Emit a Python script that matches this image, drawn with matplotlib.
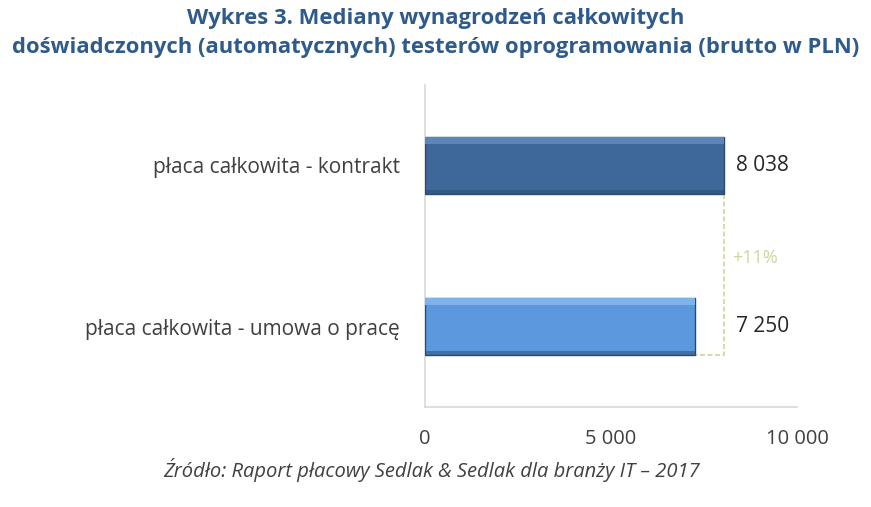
import matplotlib
matplotlib.use("Agg")
import matplotlib.pyplot as plt
import numpy as np

categories = ["płaca całkowita - umowa o pracę", "płaca całkowita - kontrakt"]
values = [7250, 8038]
value_labels = ["7 250", "8 038"]
xticks = [0, 5000, 10000]
xtick_labels = ["0", "5 000", "10 000"]
diff_label = "+11%"
title = "Wykres 3. Mediany wynagrodzeń całkowitych\ndoświadczonych (automatycznych) testerów oprogramowania (brutto w PLN)"
source = "Źródło: Raport płacowy Sedlak & Sedlak dla branży IT – 2017"

bar_colors = ["#5b98dd", "#3e6899"]
light_colors = ["#80b2ea", "#5c86b8"]
edge_color = "#2a4a70"
text_color = "#404040"
green = "#c9d7a0"

plt.rcParams['font.family'] = ['Open Sans', 'DejaVu Sans']

fig = plt.figure(figsize=(8.71, 5.07), dpi=100)
ax = fig.add_axes([425/871, 1-407/507, 372/871, 322/507])

y = np.arange(len(categories))
h = 0.35
ax.barh(y, values, height=h, color=bar_colors, edgecolor=edge_color, linewidth=1.0, zorder=3)
# bevel highlight along top and shade along bottom of each bar
for yi, v, lc in zip(y, values, light_colors):
    ax.barh(yi + h/2 - 0.02, v, height=0.04, color=lc, linewidth=0, zorder=4)
    ax.barh(yi - h/2 + 0.012, v, height=0.024, color=edge_color, linewidth=0, zorder=4, alpha=0.5)

ax.set_xlim(0, 10000)
ax.set_ylim(-0.5, 1.5)
ax.set_xticks(xticks)
ax.set_xticklabels(xtick_labels, fontsize=14.5, color=text_color)
ax.set_yticks(y)
ax.set_yticklabels(categories, fontsize=15, color=text_color)
ax.tick_params(axis='both', length=0)
ax.tick_params(axis='x', pad=16)
ax.tick_params(axis='y', pad=18)
for s in ["top", "right"]:
    ax.spines[s].set_visible(False)
for s in ["left", "bottom"]:
    ax.spines[s].set_color("#d9d9d9")
    ax.spines[s].set_linewidth(1.2)

for yi, v, lab in zip(y, values, value_labels):
    ax.text(max(values) + 330, yi, lab, va='center', ha='left', fontsize=15, color="#262626", zorder=5)

# difference bracket
ax.plot([values[1], values[1], values[0]], [y[1] - h/2, y[0] - h/2, y[0] - h/2],
        color=green, linestyle=(0, (3, 1.5)), linewidth=1.2, zorder=2)
ax.text(max(values) + 230, (y[0] + y[1]) / 2 - 0.075, diff_label, va='center', ha='left',
        fontsize=13, color=green)

fig.text(0.5, 0.985, title, ha='center', va='top', fontsize=15.8, fontweight='bold',
         color="#2f5b8c", linespacing=1.5)
fig.text(432/871, 1-470/507, source, ha='center', va='center', fontsize=14.5, style='italic', color=text_color)

fig.savefig("out.png", dpi=100)
